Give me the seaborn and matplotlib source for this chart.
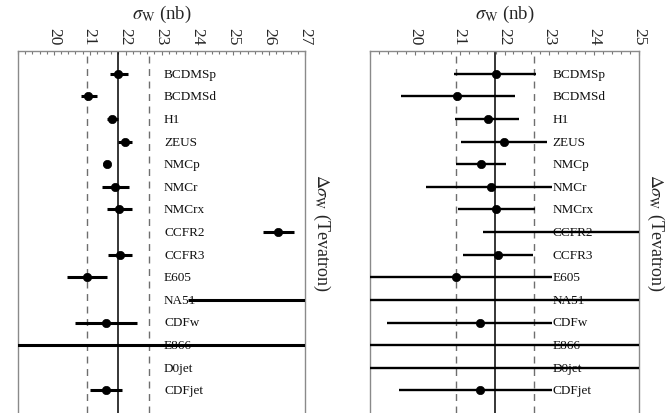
import matplotlib
matplotlib.use("Agg")
import matplotlib.pyplot as plt
import numpy as np
import pandas as pd
import seaborn as sns
from matplotlib.ticker import MultipleLocator, FixedLocator

# Experiments, fitted W cross sections and their error bars
experiments = ["BCDMSp", "BCDMSd", "H1", "ZEUS", "NMCp", "NMCr", "NMCrx",
               "CCFR2", "CCFR3", "E605", "NA51", "CDFw", "E866", "D0jet", "CDFjet"]
sigma_w = [21.80, 20.95, 21.63, 21.99, 21.47, 21.70, 21.82,
           26.25, 21.85, 20.92, 29.0, 21.45, 15.5, 33.0, 21.45]

# left panel: sigma_W uncertainty (minus / plus)
err_lo_left = [0.24, 0.18, 0.16, 0.20, 0.10, 0.35, 0.35,
               0.42, 0.35, 0.56, 5.26, 0.86, 12.0, 2.0, 0.45]
err_hi_left = [0.26, 0.24, 0.16, 0.20, 0.10, 0.40, 0.36,
               0.44, 0.33, 0.57, 5.30, 0.86, 12.0, 2.0, 0.44]

# right panel: Delta sigma_W at the Tevatron (minus / plus)
err_lo_right = [0.92, 1.26, 0.74, 0.95, 0.55, 1.44, 0.85,
                4.72, 0.78, 2.15, 11.0, 2.06, 14.0, 15.0, 1.80]
err_hi_right = [0.90, 1.28, 0.70, 0.95, 0.57, 1.37, 0.87,
                4.72, 0.78, 2.15, 11.0, 1.62, 14.0, 15.0, 1.62]

central_value = 21.78
band_edges = [20.92, 22.65]
label_x = 23.07
xlim_left = (19, 27)
xlim_right = (19, 25)
ticks_left = [20, 21, 22, 23, 24, 25, 26, 27]
ticks_right = [20, 21, 22, 23, 24, 25]

sns.set_theme(style="ticks")
plt.rcParams["font.family"] = ["Liberation Serif", "DejaVu Serif"]
plt.rcParams["mathtext.fontset"] = "stix"

df = pd.DataFrame({"experiment": experiments, "sigma": sigma_w,
                   "row": np.arange(len(experiments))})

fig = plt.figure(figsize=(6.7, 4.14), dpi=100)
ax_l = fig.add_axes([18 / 670, 0.0, 287 / 670, 362 / 414])
ax_r = fig.add_axes([370 / 670, 0.0, 269 / 670, 362 / 414])

panels = [
    (ax_l, xlim_left, ticks_left, err_lo_left, err_hi_left, 2.2),
    (ax_r, xlim_right, ticks_right, err_lo_right, err_hi_right, 1.7),
]

for ax, xlim, ticks, lo, hi, lw in panels:
    ax.axvline(central_value, color="black", lw=1.1, zorder=1)
    for xb in band_edges:
        ax.axvline(xb, color="#6e6e6e", lw=1.0, ls=(0, (5, 4)), zorder=1)

    for _, r in df.iterrows():
        ax.text(label_x, r["row"], r["experiment"], ha="left", va="center",
                fontsize=9.5, color="#111111", zorder=2)

    ax.errorbar(df["sigma"], df["row"], xerr=[lo, hi], fmt="none",
                ecolor="black", elinewidth=lw, capsize=0, zorder=3)
    sns.scatterplot(data=df, x="sigma", y="row", ax=ax, color="black",
                    edgecolor="black", s=36, linewidth=0.5, zorder=4,
                    legend=False)

    ax.set_xlim(*xlim)
    ax.set_ylim(15.0, -1.0)
    ax.set_yticks([])

    ax.xaxis.tick_top()
    ax.xaxis.set_label_position("top")
    ax.xaxis.set_major_locator(FixedLocator(ticks))
    ax.xaxis.set_minor_locator(MultipleLocator(0.2))
    ax.tick_params(axis="x", which="both", direction="in", color="#777777",
                   width=0.8, top=True, bottom=False)
    ax.tick_params(axis="x", which="major", length=3, labelsize=12.5,
                   labelrotation=-90, pad=5)
    ax.tick_params(axis="x", which="minor", length=2.5)
    ax.set_xlabel(r"$\sigma_{\rm W}$ (nb)", fontsize=13.5, labelpad=6)

    ax.yaxis.set_label_position("right")
    ax.set_ylabel(r"$\Delta\sigma_{\rm W}$ (Tevatron)", fontsize=13,
                  rotation=270, va="bottom", labelpad=4)

    for side in ("top", "left", "right"):
        ax.spines[side].set_color("#8a8a8a")
        ax.spines[side].set_linewidth(1.0)
    ax.spines["bottom"].set_visible(False)

fig.savefig("out.png", dpi=100)
